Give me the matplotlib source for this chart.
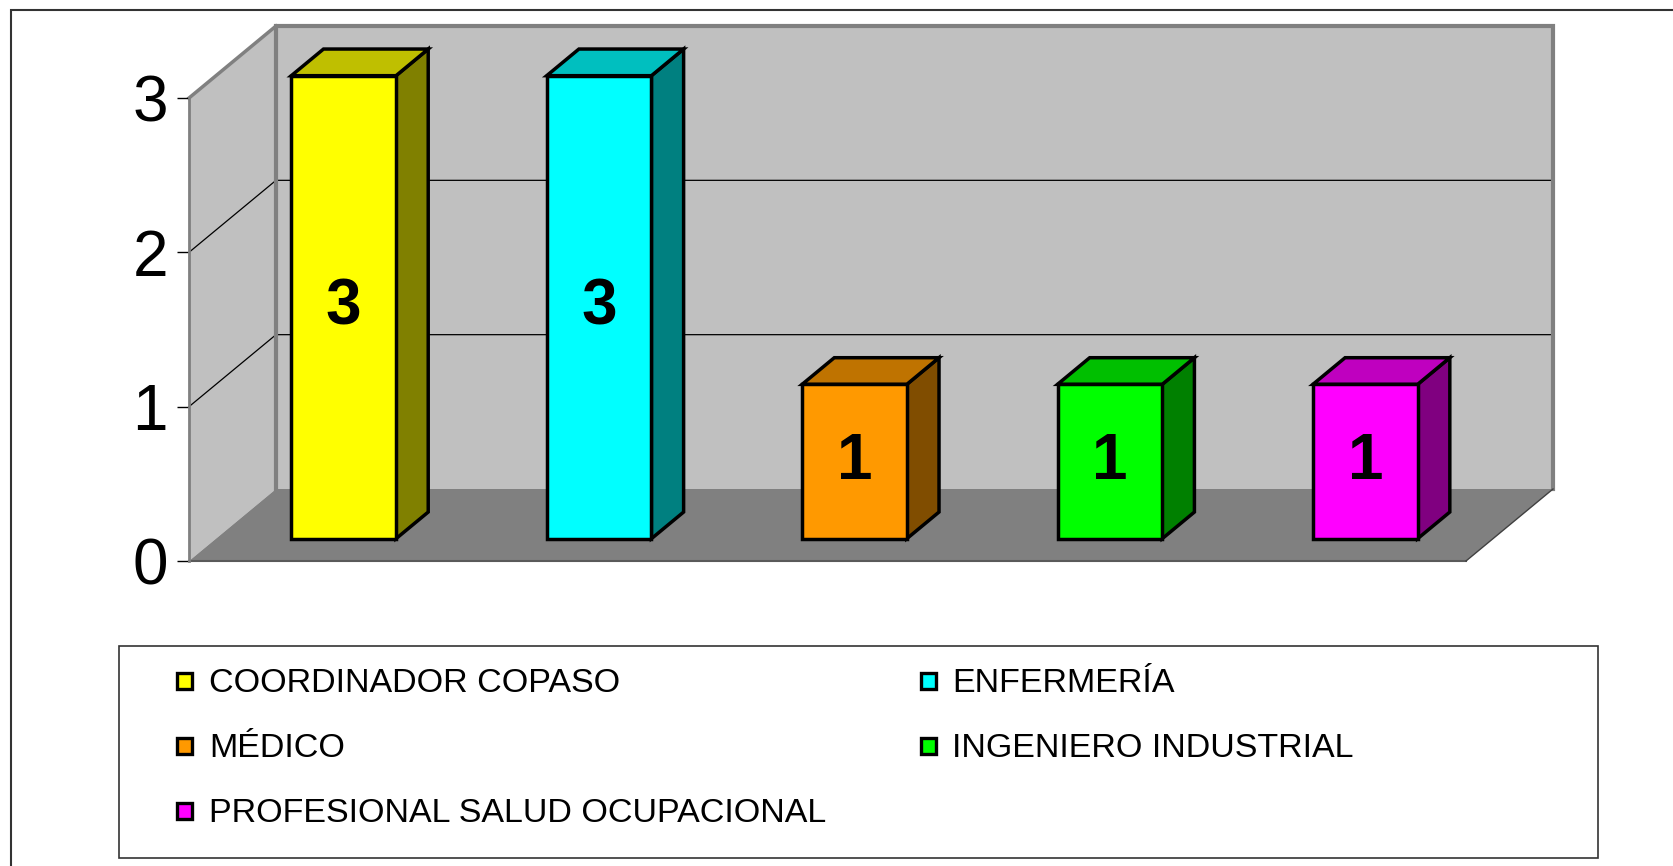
import matplotlib
matplotlib.use('Agg')
import matplotlib.pyplot as plt
from matplotlib.patches import Polygon, Rectangle
from matplotlib.colors import to_rgb

categories = ["COORDINADOR COPASO", "ENFERMERÍA", "MÉDICO",
              "INGENIERO INDUSTRIAL", "PROFESIONAL SALUD OCUPACIONAL"]
values = [3, 3, 1, 1, 1]
colors = ["#ffff00", "#00ffff", "#ff9900", "#00ff00", "#ff00ff"]
yticks = [0, 1, 2, 3]

plt.rcParams['font.family'] = 'Liberation Sans'

W, H = 1673, 866
fig = plt.figure(figsize=(W / 100, H / 100), dpi=100)
# front plane of the 3d box
ax = fig.add_axes([189 / W, (H - 561) / H, 1277 / W, 463 / H])
ax.set_xlim(0, len(values))
ax.set_ylim(0, 3)
ax.patch.set_visible(False)

# depth offset of the box (full depth), in data units
DX = 87 * len(values) / 1277
DY = 72 * 3 / 463


def P(x, y, d):
    return (x + d * DX, y + d * DY)


def shade(c, f):
    r, g, b = to_rgb(c)
    return (r * f, g * f, b * f)


def line(pts, **kw):
    ax.plot([p[0] for p in pts], [p[1] for p in pts], clip_on=False, **kw)


n = len(values)
wall = "#c0c0c0"
edge = "#808080"

# back wall, side wall, floor
ax.add_patch(Polygon([P(0, 0, 1), P(n, 0, 1), P(n, 3, 1), P(0, 3, 1)],
                     fc=wall, ec='none', clip_on=False, zorder=1))
ax.add_patch(Polygon([P(0, 0, 0), P(0, 0, 1), P(0, 3, 1), P(0, 3, 0)],
                     fc=wall, ec='none', clip_on=False, zorder=1))
ax.add_patch(Polygon([P(0, 0, 0), P(n, 0, 0), P(n, 0, 1), P(0, 0, 1)],
                     fc="#808080", ec='none', clip_on=False, zorder=1))

# wall edges
line([P(0, 0, 1), P(0, 3, 1), P(n, 3, 1), P(n, 0, 1)], color=edge, lw=3,
     zorder=1.5, solid_joinstyle='miter')
line([P(0, 3, 0), P(0, 3, 1)], color=edge, lw=2.5, zorder=1.5)
line([P(0, 0, 0), P(n, 0, 0)], color="#5a5a5a", lw=1.5, zorder=1.6)
line([P(n, 0, 0), P(n, 0, 1)], color="#404040", lw=1, zorder=1.6)

# gridlines
for v in yticks[1:-1]:
    line([P(0, v, 0), P(0, v, 1), P(n, v, 1)], color='black', lw=0.9, zorder=1.4)

# bars
w = 0.41
f0, f1 = 0.31, 0.68
for i, (v, c) in enumerate(zip(values, colors)):
    xc = i + 0.5
    x0, x1 = xc - w / 2, xc + w / 2
    kw = dict(ec='black', lw=2.5, joinstyle='miter', clip_on=False, zorder=3)
    ax.add_patch(Polygon([P(x1, 0, f0), P(x1, 0, f1), P(x1, v, f1), P(x1, v, f0)],
                         fc=shade(c, 0.5), **kw))
    ax.add_patch(Polygon([P(x0, v, f0), P(x1, v, f0), P(x1, v, f1), P(x0, v, f1)],
                         fc=shade(c, 0.75), **kw))
    ax.add_patch(Polygon([P(x0, 0, f0), P(x1, 0, f0), P(x1, v, f0), P(x0, v, f0)],
                         fc=c, **kw))
    tx, ty = P(xc, v / 2, f0)
    ax.text(tx, ty, str(v), ha='center', va='center', fontsize=46,
            fontweight='bold', zorder=4)

# axis
ax.set_xticks([])
ax.set_yticks(yticks)
ax.tick_params(axis='y', length=8.6, width=1, color='black', pad=6.5,
               labelsize=46)
for s in ['top', 'right', 'bottom']:
    ax.spines[s].set_visible(False)
ax.spines['left'].set_color(edge)
ax.spines['left'].set_linewidth(2)

# outer border
fig.add_artist(Rectangle((11 / W, (H - 880) / H), (1690 - 11) / W, 870 / H,
                         transform=fig.transFigure, fill=False, ec="#333333",
                         lw=1.5, clip_on=False))

# legend
fig.add_artist(Rectangle((119 / W, (H - 858) / H), (1598 - 119) / W, 212 / H,
                         transform=fig.transFigure, fill=False, ec="#333333",
                         lw=1.2))
col_marker = [177, 921]
col_text = [209, 952]
row_base = [692, 757, 822]
for i, (name, c) in enumerate(zip(categories, colors)):
    r, k = divmod(i, 2)
    yb = row_base[r]
    fig.add_artist(Rectangle((col_marker[k] / W, (H - yb + 3) / H), 15 / W, 16 / H,
                             transform=fig.transFigure, fc=c, ec='black', lw=2.4))
    fig.text(col_text[k] / W, (H - yb) / H, name, ha='left', va='baseline',
             fontsize=24.5)

fig.savefig('out.png', dpi=100)
